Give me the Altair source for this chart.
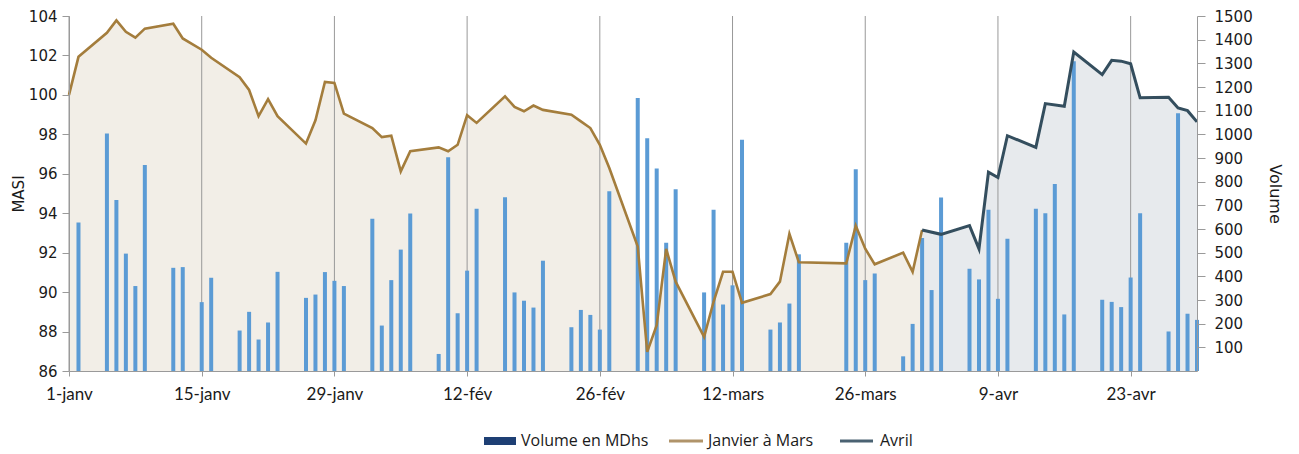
import altair as alt
import pandas as pd

# ---------------- data ----------------
bar_dates = [
    "2015-01-02", "2015-01-05", "2015-01-06", "2015-01-07", "2015-01-08", "2015-01-09",
    "2015-01-12", "2015-01-13", "2015-01-15", "2015-01-16", "2015-01-19", "2015-01-20",
    "2015-01-21", "2015-01-22", "2015-01-23", "2015-01-26", "2015-01-27", "2015-01-28",
    "2015-01-29", "2015-01-30",
    "2015-02-02", "2015-02-03", "2015-02-04", "2015-02-05", "2015-02-06", "2015-02-09",
    "2015-02-10", "2015-02-11", "2015-02-12", "2015-02-13", "2015-02-16", "2015-02-17",
    "2015-02-18", "2015-02-19", "2015-02-20", "2015-02-23", "2015-02-24", "2015-02-25",
    "2015-02-26", "2015-02-27",
    "2015-03-02", "2015-03-03", "2015-03-04", "2015-03-05", "2015-03-06", "2015-03-09",
    "2015-03-10", "2015-03-11", "2015-03-12", "2015-03-13", "2015-03-16", "2015-03-17",
    "2015-03-18", "2015-03-19", "2015-03-24", "2015-03-25", "2015-03-26", "2015-03-27",
    "2015-03-30", "2015-03-31",
    "2015-04-01", "2015-04-02", "2015-04-03", "2015-04-06", "2015-04-07", "2015-04-08",
    "2015-04-09", "2015-04-10", "2015-04-13", "2015-04-14", "2015-04-15", "2015-04-16",
    "2015-04-17", "2015-04-20", "2015-04-21", "2015-04-22", "2015-04-23", "2015-04-24",
    "2015-04-27", "2015-04-28", "2015-04-29", "2015-04-30",
]
bar_volume = [
    627, 1004, 723, 496, 359, 870, 436, 439, 291, 394, 171, 250, 133, 205, 419, 309, 323, 418, 381, 359,
    643, 192, 384, 513, 665, 72, 903, 244, 424, 686, 734, 332, 297, 268, 466, 185, 258, 237, 175, 760,
    1154, 983, 856, 542, 768, 332, 681, 281, 362, 977, 175, 205, 285, 493, 542, 852, 384, 412, 62, 199,
    562, 342, 733, 432, 387, 681, 305, 559, 686, 667, 790, 239, 1309, 301, 292, 270, 395, 667, 167, 1089, 242, 216,
]

jm_dates = [
    "2015-01-01", "2015-01-02", "2015-01-05", "2015-01-06", "2015-01-07", "2015-01-08",
    "2015-01-09", "2015-01-12", "2015-01-13", "2015-01-15", "2015-01-16", "2015-01-19",
    "2015-01-20", "2015-01-21", "2015-01-22", "2015-01-23", "2015-01-26", "2015-01-27",
    "2015-01-28", "2015-01-29", "2015-01-30",
    "2015-02-02", "2015-02-03", "2015-02-04", "2015-02-05", "2015-02-06", "2015-02-09",
    "2015-02-10", "2015-02-11", "2015-02-12", "2015-02-13", "2015-02-16", "2015-02-17",
    "2015-02-18", "2015-02-19", "2015-02-20", "2015-02-23", "2015-02-24", "2015-02-25",
    "2015-02-26", "2015-02-27",
    "2015-03-02", "2015-03-03", "2015-03-04", "2015-03-05", "2015-03-06", "2015-03-09",
    "2015-03-10", "2015-03-11", "2015-03-12", "2015-03-13", "2015-03-16", "2015-03-17",
    "2015-03-18", "2015-03-19", "2015-03-24", "2015-03-25", "2015-03-26", "2015-03-27",
    "2015-03-30", "2015-03-31", "2015-04-01",
]
jm_masi = [
    100.0, 101.93, 103.15, 103.78, 103.2, 102.9, 103.36, 103.61, 102.86, 102.29, 101.88, 100.9,
    100.25, 98.92, 99.78, 98.92, 97.53, 98.71, 100.66, 100.61, 99.05,
    98.32, 97.86, 97.93, 96.12, 97.14, 97.34, 97.14, 97.47, 98.97, 98.58, 99.93, 99.39,
    99.17, 99.46, 99.24, 99.0, 98.66, 98.32, 97.47, 96.29,
    92.31, 86.97, 88.32, 92.19, 90.53, 87.73, 89.51, 91.03, 91.03, 89.46, 89.9, 90.53,
    92.95, 91.51, 91.46, 93.37, 92.2, 91.41, 92.0, 91.03, 93.15,
]

apr_dates = [
    "2015-04-01", "2015-04-03", "2015-04-06", "2015-04-07", "2015-04-08", "2015-04-09",
    "2015-04-10", "2015-04-13", "2015-04-14", "2015-04-16", "2015-04-17", "2015-04-20",
    "2015-04-21", "2015-04-22", "2015-04-23", "2015-04-24", "2015-04-27", "2015-04-28",
    "2015-04-29", "2015-04-30",
]
apr_masi = [
    93.15, 92.93, 93.37, 92.19, 96.08, 95.81, 97.93, 97.34, 99.56, 99.42, 102.17, 101.03,
    101.75, 101.71, 101.58, 99.85, 99.88, 99.34, 99.2, 98.63,
]

tick_dates = ["2015-01-01", "2015-01-15", "2015-01-29", "2015-02-12", "2015-02-26",
              "2015-03-12", "2015-03-26", "2015-04-09", "2015-04-23"]
tick_labels = ["1-janv", "15-janv", "29-janv", "12-fév", "26-fév",
               "12-mars", "26-mars", "9-avr", "23-avr"]
x_end = "2015-04-30"

masi_ticks = [86, 88, 90, 92, 94, 96, 98, 100, 102, 104]
volume_ticks = [100, 200, 300, 400, 500, 600, 700, 800, 900, 1000, 1100, 1200, 1300, 1400, 1500]

legend_labels = ["Volume en MDhs", "Janvier à Mars", "Avril"]

# ---------------- style ----------------
W, H = 1128, 355
C_BAR = "#5b9bd5"
C_JM = "#a47d3c"
C_APR = "#344e5e"
C_FILL_JM = "#f2eee7"
C_FILL_APR = "#e7eaed"
C_LEG_BAR = "#1e3f74"
C_AXIS = "#9a9a9a"
C_TEXT = "#1a1a1a"

df_bar = pd.DataFrame({"date": pd.to_datetime(bar_dates), "volume": bar_volume})
df_jm = pd.DataFrame({"date": pd.to_datetime(jm_dates), "masi": jm_masi})
df_apr = pd.DataFrame({"date": pd.to_datetime(apr_dates), "masi": apr_masi})
df_ticks = pd.DataFrame({"date": pd.to_datetime(tick_dates)})


def dt(s):
    t = pd.Timestamp(s)
    return alt.DateTime(year=t.year, month=t.month, date=t.day)


# label lookup built from the tick arrays (nested conditionals)
label_expr = "''"
for d, lab in reversed(list(zip(tick_dates, tick_labels))):
    label_expr = f"(timeFormat(datum.value, '%Y-%m-%d') == '{d}' ? '{lab}' : {label_expr})"

x_scale = alt.Scale(domain=[dt(tick_dates[0]), dt(x_end)], padding=0)
x_axis = alt.Axis(
    values=[dt(s) for s in tick_dates], labelExpr=label_expr, grid=False, labelFlush=False,
    domainColor=C_AXIS, tickColor=C_AXIS, tickSize=5, labelFont="Lato",
    labelFontSize=17, labelColor=C_TEXT, labelPadding=10, title=None, zindex=1,
)
x_main = alt.X("date:T", scale=x_scale, axis=x_axis)

masi_scale = alt.Scale(domain=[86, 104], zero=False, nice=False)
y_left_axis = alt.Axis(
    orient="left", values=masi_ticks, title="MASI", grid=False,
    domainColor=C_AXIS, tickColor=C_AXIS, tickSize=7, labelPadding=5,
    labelFont="DejaVu Sans", labelFontSize=15, labelColor=C_TEXT,
    titleFont="DejaVu Sans", titleFontSize=15, titleFontWeight="normal",
    titleColor=C_TEXT, titlePadding=2, zindex=1,
)
y_left = alt.Y("masi:Q", scale=masi_scale, axis=y_left_axis)
y_left_plain = alt.Y("masi:Q", scale=masi_scale, axis=None)

y_right_axis = alt.Axis(
    orient="right", values=volume_ticks, title="Volume", grid=False, format="d",
    domainColor=C_AXIS, tickColor=C_AXIS, tickSize=8, labelPadding=9,
    labelFont="DejaVu Sans", labelFontSize=15, labelColor=C_TEXT,
    titleFont="DejaVu Sans", titleFontSize=16, titleFontWeight="normal",
    titleColor=C_TEXT, titlePadding=14, zindex=1,
)
y_right = alt.Y("volume:Q", scale=alt.Scale(domain=[0, 1500], nice=False), axis=y_right_axis)

area_jm = alt.Chart(df_jm).mark_area(color=C_FILL_JM, opacity=1, clip=True).encode(
    x=x_main, y=y_left)
area_apr = alt.Chart(df_apr).mark_area(color=C_FILL_APR, opacity=1, clip=True).encode(
    x=x_main, y=y_left_plain)
grid = alt.Chart(df_ticks).mark_rule(color="#999999", strokeWidth=1).encode(
    x=x_main, y=alt.value(0), y2=alt.value(H))
bars = alt.Chart(df_bar).mark_bar(color=C_BAR, size=4).encode(x=x_main, y=y_right)
line_jm = alt.Chart(df_jm).mark_line(color=C_JM, strokeWidth=2.6).encode(x=x_main, y=y_left_plain)
line_apr = alt.Chart(df_apr).mark_line(color=C_APR, strokeWidth=3).encode(x=x_main, y=y_left_plain)

# ---------------- manual legend (pixel layout) ----------------
LEG_Y = 425
leg_layers = []
leg_layers.append(
    alt.Chart(pd.DataFrame({"k": [0]})).mark_rect(color=C_LEG_BAR).encode(
        x=alt.value(415), x2=alt.value(447), y=alt.value(LEG_Y - 4), y2=alt.value(LEG_Y + 4))
)
leg_layers.append(
    alt.Chart(pd.DataFrame({"k": [0]})).mark_rule(color="#b0946a", strokeWidth=3).encode(
        x=alt.value(600), x2=alt.value(634), y=alt.value(LEG_Y))
)
leg_layers.append(
    alt.Chart(pd.DataFrame({"k": [0]})).mark_rule(color="#4a6272", strokeWidth=3).encode(
        x=alt.value(771), x2=alt.value(804), y=alt.value(LEG_Y))
)
for lab, lx in zip(legend_labels, [452, 639, 811]):
    leg_layers.append(
        alt.Chart(pd.DataFrame({"label": [lab]})).mark_text(
            align="left", baseline="middle", font="Open Sans", fontSize=16, color=C_TEXT
        ).encode(x=alt.value(lx), y=alt.value(LEG_Y), text="label:N")
    )

chart = alt.layer(
    area_jm, area_apr, grid, bars, line_jm, line_apr, *leg_layers
).resolve_scale(y="independent").properties(
    width=W, height=H, background="white",
    padding={"left": 3, "top": 1, "right": 4, "bottom": 5},
).configure_view(stroke=None)

chart.save("out.html", embed_options={"renderer": "svg", "actions": False})
